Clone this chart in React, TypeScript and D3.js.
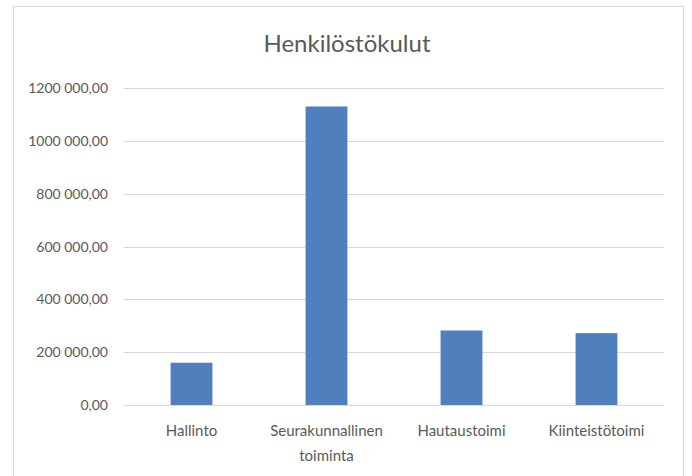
import React, { useEffect, useRef } from 'react';
import * as d3 from 'd3';

const title = 'Henkilöstökulut';
const categories = ['Hallinto', 'Seurakunnallinen toiminta', 'Hautaustoimi', 'Kiinteistötoimi'];
const values = [160000, 1130000, 282000, 272000];
const yTicks = [0, 200000, 400000, 600000, 800000, 1000000, 1200000];

// Finnish style: space as thousands separator, comma decimals
const fiLocale = d3.formatLocale({ decimal: ',', thousands: ' ', grouping: [3], currency: ['', ' €'] });
const fmtY = (v: number) => {
  const s = fiLocale.format(',.2f')(v);
  // Excel drops the separator for the first group of 4 digits ("1200 000,00")
  return v >= 1000000 ? s.replace(/^(\d) (\d{3})/, '$1$2') : s;
};

const W = 692;
const H = 476;

export default function App() {
  const svgRef = useRef<SVGSVGElement>(null);

  useEffect(() => {
    if (!svgRef.current) return;
    const svg = d3.select(svgRef.current);
    svg.selectAll('*').remove();

    const margin = { top: 88, right: 28, bottom: 71, left: 124 };
    const innerW = W - margin.left - margin.right;
    const innerH = H - margin.top - margin.bottom;

    // chart frame
    svg.append('rect')
      .attr('x', 13.5).attr('y', 6.5)
      .attr('width', 670).attr('height', 480)
      .attr('fill', '#fff')
      .attr('stroke', '#d9d9d9');

    svg.append('text')
      .attr('x', 347).attr('y', 52)
      .attr('text-anchor', 'middle')
      .attr('font-family', 'Lato, sans-serif')
      .attr('font-size', 24)
      .attr('fill', '#595959')
      .text(title);

    const g = svg.append('g').attr('transform', `translate(${margin.left},${margin.top})`);

    const x = d3.scaleBand<string>()
      .domain(categories)
      .range([0, innerW])
      .paddingInner(0.69)
      .paddingOuter(0.345);

    const y = d3.scaleLinear().domain([0, 1200000]).range([innerH, 0]);

    // gridlines
    g.selectAll('.grid')
      .data(yTicks)
      .enter().append('line')
      .attr('x1', 0).attr('x2', innerW)
      .attr('y1', d => Math.round(y(d)) + 0.5)
      .attr('y2', d => Math.round(y(d)) + 0.5)
      .attr('stroke', '#d9d9d9')
      .attr('stroke-width', 1);

    // y labels
    g.selectAll('.ylab')
      .data(yTicks)
      .enter().append('text')
      .attr('x', -16)
      .attr('y', d => y(d))
      .attr('dy', '0.36em')
      .attr('text-anchor', 'end')
      .attr('font-family', 'Lato, sans-serif')
      .attr('font-size', 14)
      .attr('fill', '#595959')
      .text(d => fmtY(d));

    // bars
    g.selectAll('.bar')
      .data(categories)
      .enter().append('rect')
      .attr('x', d => x(d)!)
      .attr('width', x.bandwidth())
      .attr('y', (d, i) => y(values[i]))
      .attr('height', (d, i) => innerH - y(values[i]))
      .attr('fill', '#4f7fbd');

    // x labels, wrapped to the category width
    const step = x.step();
    categories.forEach(cat => {
      const cx = x(cat)! + x.bandwidth() / 2;
      const t = g.append('text')
        .attr('x', cx)
        .attr('y', innerH + 31)
        .attr('text-anchor', 'middle')
        .attr('font-family', 'Lato, sans-serif')
        .attr('font-size', 15)
        .attr('fill', '#595959');
      const words = cat.split(' ');
      let line: string[] = [];
      let tspan = t.append('tspan').attr('x', cx).attr('dy', 0);
      words.forEach(w => {
        line.push(w);
        tspan.text(line.join(' '));
        if ((tspan.node() as SVGTSpanElement).getComputedTextLength() > step - 6 && line.length > 1) {
          line.pop();
          tspan.text(line.join(' '));
          line = [w];
          tspan = t.append('tspan').attr('x', cx).attr('dy', 25).text(w);
        }
      });
    });
  }, []);

  return (
    <svg
      ref={svgRef}
      width={W}
      height={H}
      style={{ position: 'absolute', left: 0, top: 0, background: '#fff' }}
    />
  );
}
